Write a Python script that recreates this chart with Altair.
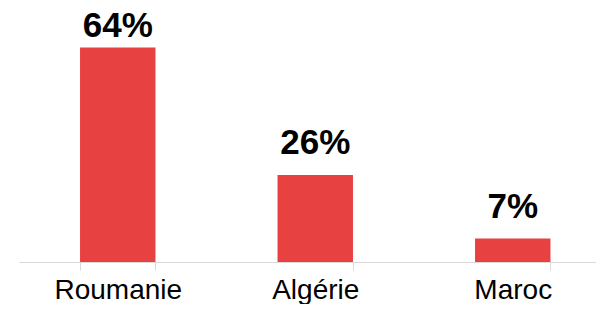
import altair as alt
import pandas as pd

countries = ["Roumanie", "Algérie", "Maroc"]
shares = [64, 26, 7]
labels = ["64%", "26%", "7%"]

df = pd.DataFrame({"pays": countries, "part": shares, "label": labels})

x_scale = alt.Scale(domain=countries, range=[0, 592.5], paddingInner=0.618, paddingOuter=0.309)

x = alt.X(
    "pays:N",
    sort=countries,
    scale=x_scale,
    axis=alt.Axis(
        title=None,
        labelAngle=0,
        labelFont="Liberation Sans",
        labelFontSize=28,
        labelColor="#000000",
        labelBaseline="alphabetic",
        labelPadding=28,
        tickSize=8,
        tickColor="#D9D9D9",
        domainColor="#D9D9D9",
        tickBand="extent",
        labelBound=False,
        labelOverlap=False,
    ),
)

y_scale = alt.Scale(domain=[0, 75.8], nice=False, zero=True)

bars = alt.Chart(df).mark_bar(color="#E84142").encode(
    x=x,
    y=alt.Y("part:Q", scale=y_scale, axis=None),
)

text = (
    alt.Chart(df)
    .transform_calculate(ly="min(datum.part, 61)")
    .mark_text(
        font="Liberation Sans",
        fontSize=35,
        fontWeight="bold",
        color="#000000",
        baseline="alphabetic",
        dy=-21,
    )
    .encode(
        x=alt.X("pays:N", sort=countries),
        y=alt.Y("ly:Q", scale=y_scale, axis=None),
        text="label:N",
    )
)

chart = (
    alt.layer(bars, text)
    .properties(
        width=577,
        height=254,
        autosize=alt.AutoSizeParams(type="none"),
        padding={"left": 11, "top": 0, "right": 0, "bottom": 42},
    )
    .configure_view(stroke=None, clip=False)
    .configure_axis(grid=False)
)

chart.save("out.html", embed_options={"renderer": "svg", "actions": False})
